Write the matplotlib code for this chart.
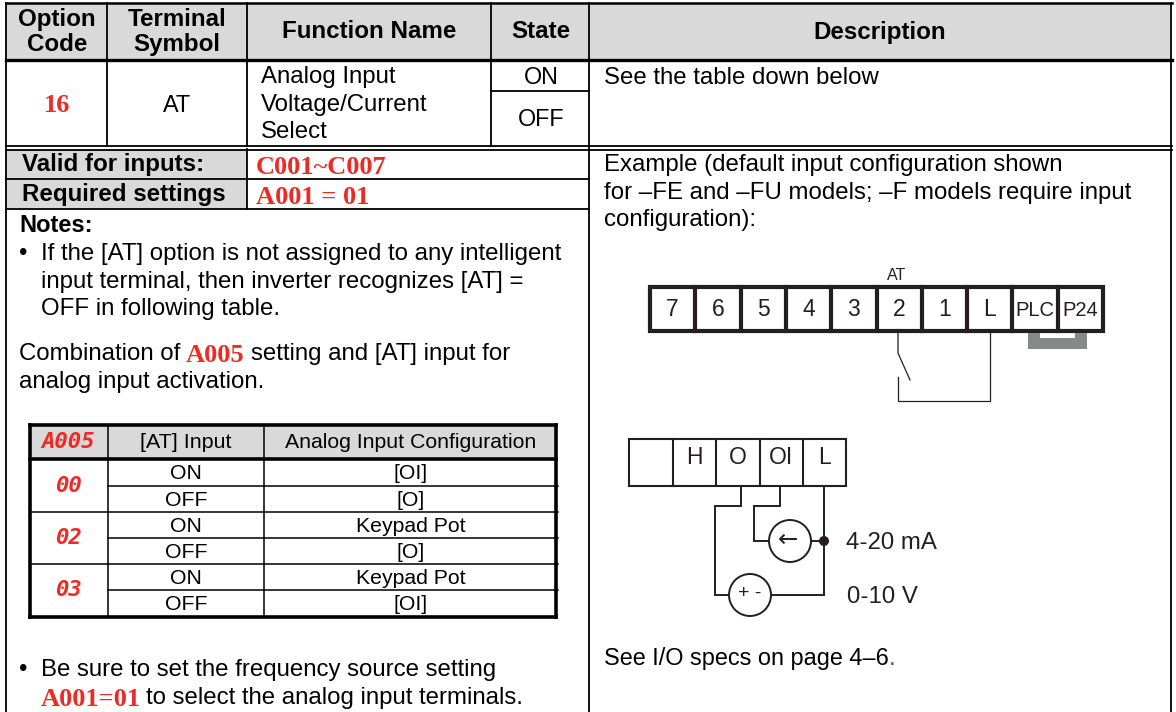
import matplotlib
matplotlib.use('Agg')
import matplotlib.pyplot as plt
from matplotlib.patches import Circle, Rectangle

SANS = 'Liberation Sans'
SERIF = 'Liberation Serif'
RED = '#ee2a24'
GREY = '#d9d9d9'
INK = '#231f20'

# main table text
header_labels = ['Option\nCode', 'Terminal\nSymbol', 'Function Name', 'State', 'Description']
option_code = '16'
terminal_symbol = 'AT'
function_lines = ['Analog Input', 'Voltage/Current', 'Select']
state_labels = ['ON', 'OFF']
valid_text = ['Valid for inputs:', 'C001~C007']
required_text = ['Required settings', 'A001 = 01']
example_lines = ['Example (default input configuration shown',
                 'for \u2013FE and \u2013FU models; \u2013F models require input',
                 'configuration):']
notes_lines = ['If the [AT] option is not assigned to any intelligent',
               'input terminal, then inverter recognizes [AT] =',
               'OFF in following table.']
combo_end = 'setting and [AT] input for'
combo_line2 = 'analog input activation.'
see_io = 'See I/O specs on page 4\u20136'

# inner table
inner_headers = ['A005', '[AT] Input', 'Analog Input Configuration']
inner_codes = ['00', '02', '03']
inner_inputs = ['ON', 'OFF', 'ON', 'OFF', 'ON', 'OFF']
inner_config = ['[OI]', '[O]', 'Keypad Pot', '[O]', 'Keypad Pot', '[OI]']

# wiring diagrams
strip_top = ['7', '6', '5', '4', '3', '2', '1', 'L', 'PLC', 'P24']
strip_bottom = ['', 'H', 'O', 'OI', 'L']

fig = plt.figure(figsize=(11.76, 7.12), dpi=100)
ax = fig.add_axes([0, 0, 1, 1])
ax.set_xlim(0, 1176)
ax.set_ylim(712, 0)
ax.axis('off')


def line(xs, ys, lw=1.3, c='black'):
    ax.plot(xs, ys, color=c, lw=lw, solid_capstyle='projecting', solid_joinstyle='miter')


def text(x, y, s, size=17.3, ha='left', c='black', weight='normal', family=SANS, **kw):
    return ax.text(x, y, s, fontsize=size, ha=ha, va='center', color=c, weight=weight,
                   family=family, linespacing=1.0, **kw)


# grey fills
ax.add_patch(Rectangle((6, 3), 1164, 57, fc=GREY, ec='none'))
ax.add_patch(Rectangle((6, 149), 241, 60, fc=GREY, ec='none'))
ax.add_patch(Rectangle((29, 424), 529, 35, fc=GREY, ec='none'))

# main grid
line([6, 1172], [3, 3], 1.8)
line([6, 1172], [60, 60], 2.4)
line([6, 1172], [146, 146], 1.3)
line([6, 1172], [149.5, 149.5], 1.3)
line([6, 6], [3, 712], 1.3)
line([1171, 1171], [3, 712], 1.3)
for x in [107, 247, 491]:
    line([x, x], [3, 146], 1.3)
line([589, 589], [3, 712], 1.3)
line([491, 589], [90.5, 90.5], 1.3)
line([247, 247], [149, 209], 1.3)
line([6, 589], [179, 179], 1.3)
line([6, 589], [209, 209], 1.3)

# header row
for x, s in zip([57, 177, 369, 541, 880], header_labels):
    ax.text(x, 32, s, fontsize=17.4, ha='center', va='center', weight='bold', family=SANS, linespacing=1.13)

text(57, 106, option_code, size=19, c=RED, weight='bold', family=SERIF, ha='center')
text(177, 105, terminal_symbol, size=16.8, ha='center')
for y, s in zip([77, 105, 132], function_lines):
    text(261, y, s)
for y, s in zip([77, 119], state_labels):
    text(541, y, s, size=16.8, ha='center')
text(604, 77.5, 'See the table down below')

# settings rows
text(22, 165, valid_text[0], size=17.4, weight='bold')
text(22, 195, required_text[0], size=17.4, weight='bold')
text(256, 167, valid_text[1], size=19, c=RED, weight='bold', family=SERIF)
text(256, 197, required_text[1], size=19, c=RED, weight='bold', family=SERIF)
text(19, 225, 'Notes:', size=17, weight='bold')

# left column notes
text(19, 254, '\u2022')
for y, s in zip([254, 282, 309], notes_lines):
    text(41, y, s)
text(19, 354, 'Combination of')
text(186, 355, 'A005', size=19, c=RED, weight='bold', family=SERIF)
text(251, 354, combo_end)
text(19, 382, combo_line2)
text(19, 670, '\u2022')
text(41, 670, 'Be sure to set the frequency source setting')
text(41, 699, 'A001=01', size=19, c=RED, weight='bold', family=SERIF)
text(146, 698, 'to select the analog input terminals.')

# right column
for y, s in zip([164.5, 192.5, 220], example_lines):
    text(604, y, s)
text(604, 659, see_io, size=16.9)
text(889, 659, '.', c='#3b4fa0')

# inner table grid
inner_rows = [459, 486, 512, 538, 564, 590, 617]
line([30, 556], [425, 425], 2.6)
line([30, 556], [459, 459], 2.6)
line([30, 556], [617, 617], 2.6)
line([30, 30], [425, 617], 2.6)
line([556, 556], [425, 617], 2.6)
for x in [108, 264]:
    line([x, x], [425, 617], 1.1)
for y in inner_rows[1:-1]:
    line([108, 558], [y, y], 1.1)
for y in inner_rows[2:-1:2]:
    line([30, 108], [y, y], 1.1)
text(68, 442, inner_headers[0], size=16, ha='center', c=RED, weight='bold', style='italic', family='DejaVu Sans Mono')
text(186, 442.5, inner_headers[1], size=15.4, ha='center')
text(411, 442.5, inner_headers[2], size=15.3, ha='center')
for i, s in enumerate(inner_codes):
    text(68, (inner_rows[2 * i] + inner_rows[2 * i + 2]) / 2, s, size=16, ha='center', c=RED, weight='bold',
         style='italic', family='DejaVu Sans Mono')
for i in range(6):
    yc = (inner_rows[i] + inner_rows[i + 1]) / 2 + 1
    text(186, yc, inner_inputs[i], size=15.3, ha='center')
    text(411, yc, inner_config[i], size=15.3, ha='center')

# terminal strip, top
x0, x1 = 650, 1103
ax.add_patch(Rectangle((x0, 287), x1 - x0, 43.5, fc='white', ec=INK, lw=3))
pitch = (x1 - x0) / len(strip_top)
for i, s in enumerate(strip_top):
    xc = x0 + pitch * (i + 0.5)
    if i:
        line([x0 + pitch * i] * 2, [287, 330.5], 3, INK)
    text(xc, 310, s, size=14.5 if len(s) > 1 else 16.5, ha='center', c=INK)
text(897, 275, 'AT', size=11.5, ha='center', c=INK)

# jumper
ax.add_patch(Rectangle((1028, 338), 59, 11, fc='#87888a', ec='none'))
ax.add_patch(Rectangle((1028, 333), 12, 6, fc='#87888a', ec='none'))
ax.add_patch(Rectangle((1075, 333), 12, 6, fc='#87888a', ec='none'))

# switch
line([898, 898, 910], [333, 353, 380], 0.9, INK)
line([898, 898, 990, 990], [377, 401, 401, 333], 0.9, INK)

# terminal strip, bottom
bx = [629, 673, 716, 760, 803, 846]
ax.add_patch(Rectangle((629, 439), 217, 47, fc='white', ec=INK, lw=1.5))
for i, s in enumerate(strip_bottom):
    if i:
        line([bx[i]] * 2, [439, 486], 1.5, INK)
    text((bx[i] + bx[i + 1]) / 2, 458, s, size=16.5, ha='center', c=INK)

# analog wiring
line([741, 741, 715, 715, 729], [486, 506, 506, 595, 595], 1.4, INK)
line([780, 780, 754, 754, 769], [486, 506, 506, 541, 541], 1.4, INK)
line([824, 824], [486, 595], 1.4, INK)
line([772, 824], [595, 595], 1.4, INK)
line([811, 824], [541, 541], 1.4, INK)
ax.add_patch(Circle((790, 541), 21, fc='white', ec=INK, lw=1.4))
ax.add_patch(Circle((750, 595), 21, fc='white', ec=INK, lw=1.4))
ax.add_patch(Circle((824, 541), 5, fc=INK, ec='none'))
text(788, 540, '\u2190', size=17.5, ha='center', c=INK, family='DejaVu Sans')
text(750, 594, '+ -', size=14, ha='center', c=INK)
text(846, 543, '4-20 mA', c=INK)
text(847, 597, '0-10 V', c=INK)

fig.savefig('out.png', dpi=100)
